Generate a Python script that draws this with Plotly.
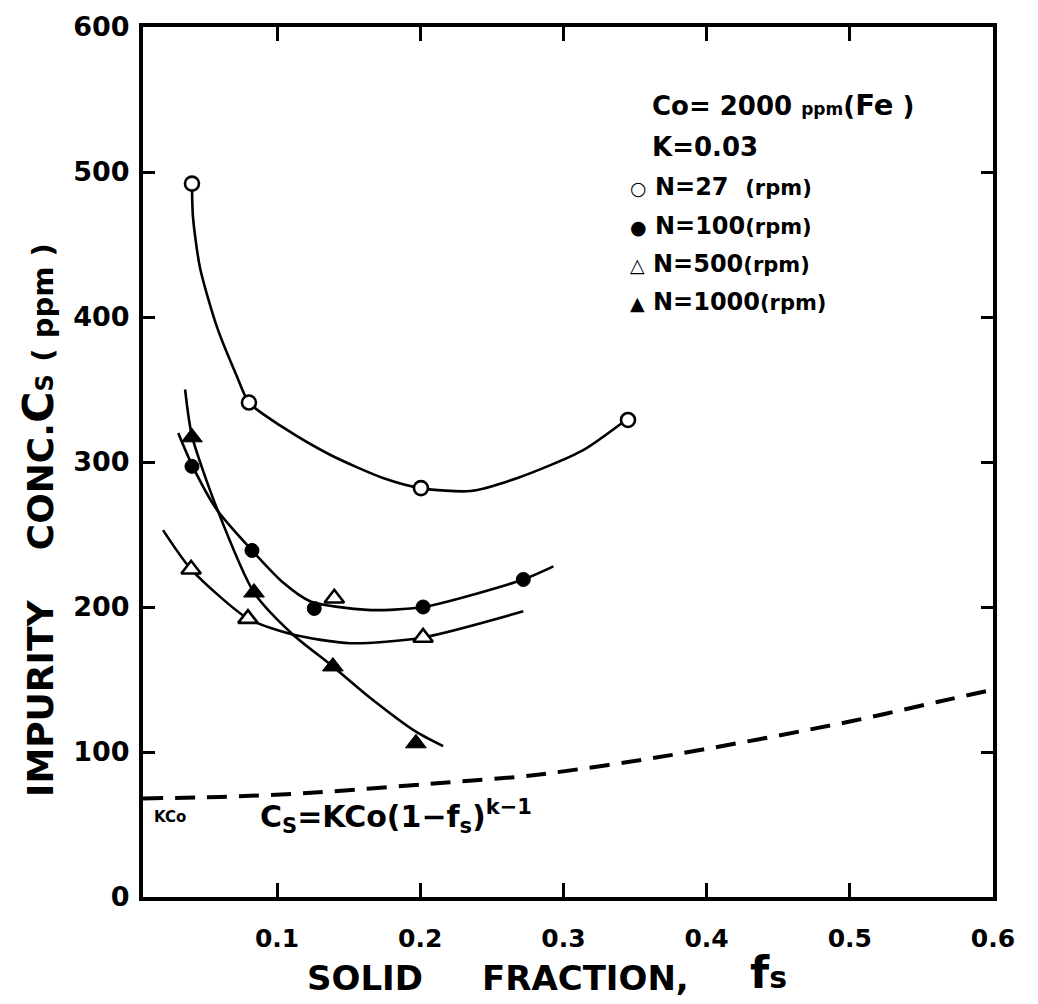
import plotly.graph_objects as go

# ---- measured points: solid fraction fs vs impurity concentration Cs (ppm) ----
fs_27 = [0.0406, 0.0804, 0.2005, 0.3451]
cs_27 = [492, 341, 282, 329]

fs_100 = [0.0406, 0.0825, 0.126, 0.202, 0.272]
cs_100 = [297, 239, 199, 200, 219]

fs_500 = [0.040, 0.0797, 0.140, 0.202]
cs_500 = [226, 192, 206, 179]

fs_1000 = [0.0406, 0.0839, 0.139, 0.197]
cs_1000 = [317, 210, 159, 106]

# ---- hand-faired curves through each data set ----
curve27_fs = [0.0406, 0.0413, 0.0462, 0.0581, 0.072, 0.0804, 0.104, 0.137, 0.174, 0.2005,
              0.235, 0.268, 0.3135, 0.345]
curve27_cs = [492, 469, 434, 393, 359, 341, 324, 305, 289, 282,
              280, 289, 308, 330]

curve100_fs = [0.031, 0.0406, 0.058, 0.0825, 0.104, 0.123, 0.163, 0.202, 0.272, 0.293]
curve100_cs = [320, 298, 267, 239, 217, 204, 198, 200, 219, 228]

curve500_fs = [0.0204, 0.040, 0.0797, 0.111, 0.151, 0.202, 0.272]
curve500_cs = [253, 226, 192, 181, 175, 179, 197]

curve1000_fs = [0.0358, 0.0406, 0.058, 0.0839, 0.111, 0.139, 0.163, 0.197, 0.216]
curve1000_cs = [350, 318, 268, 210, 181, 159, 139, 114, 104]

# Scheil-type equilibrium line Cs = K*Co*(1-fs)^(k-1)
scheil_fs = [0.0064, 0.06, 0.121, 0.214, 0.279, 0.376, 0.500, 0.561, 0.600]
scheil_cs = [68, 69, 71.7, 78.6, 84, 98, 121, 134.5, 143]

# axis ticks
x_ticks = [0.1, 0.2, 0.3, 0.4, 0.5, 0.6]
x_tick_text = ["0.1", "0.2", "0.3", "0.4", "0.5", "0.6"]
y_ticks = [0, 100, 200, 300, 400, 500, 600]
y_tick_text = ["0", "100", "200", "300", "400", "500", "600"]

FONT = "DejaVu Sans"
W, H = 1038, 1004
PL, PR, PT, PB = 143, 993, 27, 897   # plot area edges in pixels


def px(x):
    return (x - PL) / (PR - PL)


def py(y):
    return (PB - y) / (PB - PT)


fig = go.Figure()

line_style = dict(color="black", width=2.6, shape="spline", smoothing=0.7)
for cx, cy in [(curve27_fs, curve27_cs), (curve100_fs, curve100_cs),
               (curve500_fs, curve500_cs), (curve1000_fs, curve1000_cs)]:
    fig.add_trace(go.Scatter(x=cx, y=cy, mode="lines", line=line_style,
                             showlegend=False, hoverinfo="skip"))

fig.add_trace(go.Scatter(x=scheil_fs, y=scheil_cs, mode="lines",
                         line=dict(color="black", width=4, dash="20px,12px",
                                   shape="spline", smoothing=0.8),
                         showlegend=False, hoverinfo="skip"))

fig.add_trace(go.Scatter(x=fs_27, y=cs_27, mode="markers", name="N=27 (rpm)",
                         marker=dict(symbol="circle", size=14, color="white",
                                     line=dict(color="black", width=2.6)),
                         showlegend=False))
fig.add_trace(go.Scatter(x=fs_100, y=cs_100, mode="markers", name="N=100(rpm)",
                         marker=dict(symbol="circle", size=14, color="black",
                                     line=dict(color="black", width=1)),
                         showlegend=False))
fig.add_trace(go.Scatter(x=fs_500, y=cs_500, mode="markers", name="N=500(rpm)",
                         marker=dict(symbol="triangle-up", size=17, color="white",
                                     line=dict(color="black", width=2.6)),
                         showlegend=False))
fig.add_trace(go.Scatter(x=fs_1000, y=cs_1000, mode="markers", name="N=1000(rpm)",
                         marker=dict(symbol="triangle-up", size=18, color="black",
                                     line=dict(color="black", width=1)),
                         showlegend=False))

annotations = []


def note(text, x, y, size, xanchor="left", yanchor="middle", angle=0):
    annotations.append(dict(text=text, x=px(x), y=py(y), xref="paper", yref="paper",
                            showarrow=False, xanchor=xanchor, yanchor=yanchor,
                            textangle=angle,
                            font=dict(family=FONT, size=size, color="black", weight="bold")))


# condition block and symbol key
note("Co= 2000 <span style='font-size:17px'>ppm</span>(<span style='font-size:29px'>Fe</span> )",
     650, 105, 26)
note("K=0.03", 650, 147, 26)
note("<span style='font-size:19px'>○</span> N=27  <span style='font-size:21px'>(rpm)</span>", 628, 187, 24)
note("<span style='font-size:19px'>●</span> N=100<span style='font-size:21px'>(rpm)</span>", 628, 226, 24)
note("<span style='font-size:19px'>△</span> N=500<span style='font-size:21px'>(rpm)</span>", 628, 264, 24)
note("<span style='font-size:19px'>▲</span> N=1000<span style='font-size:21px'>(rpm)</span>", 628, 302, 24)

# equilibrium line labels
note("KCo", 152, 817, 15)
note("C<sub>S</sub>=KCo(1−f<sub>s</sub>)<sup>k−1</sup>", 258, 816, 30)

# axis titles
note("SOLID", 365, 978, 34, xanchor="center")
note("FRACTION,", 585, 978, 34, xanchor="center")
note("f<span style='font-size:30px'>s</span>", 748, 972, 44)
note("IMPURITY&nbsp;&nbsp;&nbsp;&nbsp;CONC.<span style='font-size:43px'>C</span>"
     "<span style='font-size:24px'>S</span>&nbsp;<span style='font-size:29px'>(&nbsp;ppm&nbsp;)</span>",
     38, 520, 36, xanchor="center", angle=-90)

axis_common = dict(showline=True, linecolor="black", linewidth=4, mirror="ticks",
                   ticks="inside", tickcolor="black", tickwidth=3,
                   showgrid=False, zeroline=False)

fig.update_layout(
    width=W, height=H, autosize=False,
    margin=dict(l=PL, r=W - PR, t=PT, b=H - PB),
    paper_bgcolor="white", plot_bgcolor="white",
    xaxis=dict(range=[0.0064, 0.6], tickvals=x_ticks, ticktext=x_tick_text,
               ticklen=14, ticklabelstandoff=16,
               tickfont=dict(family=FONT, size=25, color="black", weight="bold"),
               **axis_common),
    yaxis=dict(range=[0, 600], tickvals=y_ticks, ticktext=y_tick_text,
               ticklen=12, ticklabelstandoff=4,
               tickfont=dict(family=FONT, size=27, color="black", weight="bold"),
               **axis_common),
    annotations=annotations,
)

fig.write_html("out.html")
